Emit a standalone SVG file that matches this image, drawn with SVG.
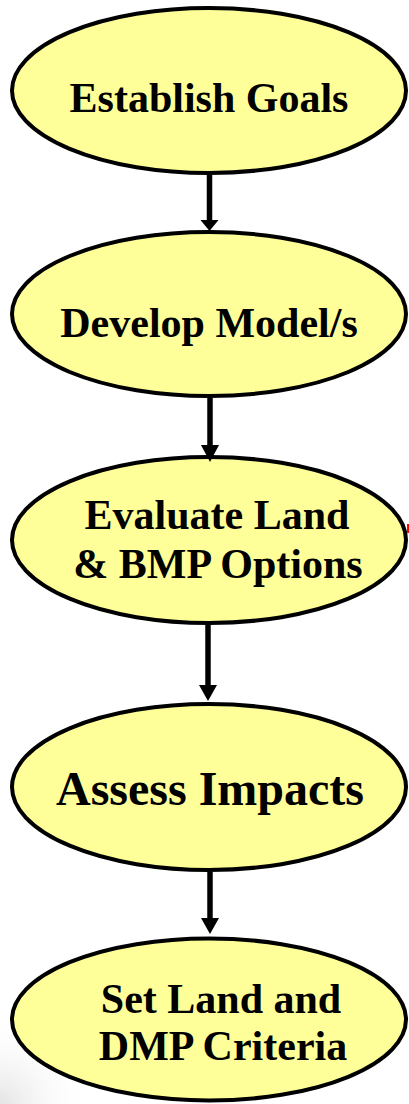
<svg xmlns="http://www.w3.org/2000/svg" width="409" height="1104" viewBox="0 0 409 1104">
  <defs>
    <radialGradient id="corner-shade" cx="0" cy="1104" r="90" gradientUnits="userSpaceOnUse">
      <stop offset="0" stop-color="#D8D8D8" stop-opacity="0.7"/>
      <stop offset="1" stop-color="#FFFFFF" stop-opacity="0"/>
    </radialGradient>
  </defs>
  <style>
    .step { fill: #FFFF99; stroke: #000000; stroke-width: 4; }
    .label { font-family: 'Liberation Serif', 'Times New Roman', serif; font-weight: 700; font-size: 42px; fill: #000000; text-anchor: middle; }
    .big { font-size: 48px; }
    .flow { stroke: #000000; stroke-width: 5.5; fill: none; }
    .head { fill: #000000; }
  </style>
  <rect width="409" height="1104" fill="#FFFFFF"/>
  <!-- faint shading in the lower-left corner -->
  <rect x="0" y="1000" width="100" height="104" fill="url(#corner-shade)"/>

  <!-- process steps -->
  <g id="establish-goals">
    <ellipse class="step" cx="209" cy="90.5" rx="197" ry="82.5"/>
    <text class="label" x="209" y="112">Establish Goals</text>
  </g>
  <g id="develop-models">
    <ellipse class="step" cx="209" cy="314" rx="197" ry="82"/>
    <text class="label" x="209" y="337">Develop Model/s</text>
  </g>
  <g id="evaluate-options">
    <ellipse class="step" cx="209" cy="540" rx="197" ry="83"/>
    <text class="label" x="217" y="529">Evaluate Land</text>
    <text class="label" x="218" y="578">&amp; BMP Options</text>
  </g>
  <g id="assess-impacts">
    <ellipse class="step" cx="209" cy="787" rx="197" ry="83"/>
    <text class="label big" x="210" y="805">Assess Impacts</text>
  </g>
  <g id="set-criteria">
    <ellipse class="step" cx="209" cy="1019.5" rx="197" ry="81"/>
    <text class="label" x="221" y="1013">Set Land and</text>
    <text class="label" x="223" y="1060">DMP Criteria</text>
  </g>

  <!-- connectors -->
  <g id="connectors">
    <line class="flow" x1="209.5" y1="175" x2="209.5" y2="222"/>
    <polygon class="head" points="200.5,220 218.5,220 209.5,231"/>
    <line class="flow" x1="210" y1="398" x2="210" y2="447"/>
    <polygon class="head" points="201,445 219,445 210,462"/>
    <line class="flow" x1="208" y1="625" x2="208" y2="687"/>
    <polygon class="head" points="199,685 217,685 208,701"/>
    <line class="flow" x1="210" y1="872" x2="210" y2="920"/>
    <polygon class="head" points="201,918 219,918 210,934"/>
  </g>

  <!-- small red tick at right edge -->
  <rect x="407" y="524" width="2" height="9" fill="#FF0000"/>
</svg>
